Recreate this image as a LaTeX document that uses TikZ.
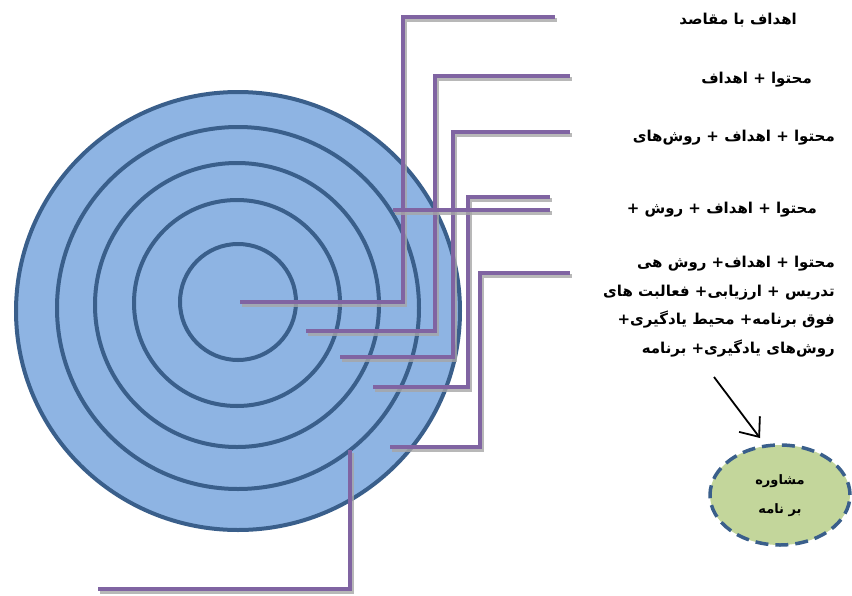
\documentclass[tikz,border=0pt]{standalone}
\usepackage{fontspec}
\usetikzlibrary{arrows.meta,shapes.geometric}
\newfontfamily\arabicfont[Script=Arabic]{DejaVu Sans Bold}
\TeXXeTstate=1
\definecolor{ringfill}{HTML}{8EB4E3}
\definecolor{ringline}{HTML}{3A5F8B}
\definecolor{purp}{HTML}{8064A2}
\definecolor{shad}{HTML}{A6A6A6}
\definecolor{ovfill}{HTML}{C3D69B}
\tikzset{
  ring/.style={draw=ringline,line width=4pt},
  plink/.style={draw=purp,line width=4.5pt},
  pshadow/.style={draw=shad,line width=4.5pt,opacity=0.8},
  lbl/.style={font=\arabicfont\fontsize{15}{28.5}\selectfont,inner sep=0pt,align=right},
}
\newcommand{\plinepath}[1]{%
  \draw[pshadow,shift={(1.5,3)}] #1;
  \draw[plink] #1;}
\begin{document}
\begin{tikzpicture}[x=1pt,y=-1pt]
\useasboundingbox (0,0) rectangle (852,595);
% target
\fill[ringfill] (238,311) ellipse [x radius=222,y radius=219];
\draw[ring] (238,311) ellipse [x radius=222,y radius=219];
\draw[ring] (238,308) circle [radius=181];
\draw[ring] (237,305) circle [radius=142];
\draw[ring] (237,303) circle [radius=103];
\draw[ring] (238,302) circle [radius=58];
% purple connectors
\plinepath{(240,302) -- (403,302) -- (403,17) -- (555,17)}
\plinepath{(306,331) -- (435,331) -- (435,76) -- (570,76)}
\plinepath{(340,357) -- (453,357) -- (453,132) -- (570,132)}
\plinepath{(373,387) -- (468,387) -- (468,197) -- (550,197)}
\plinepath{(393,210) -- (550,210)}
\plinepath{(390,447) -- (480,447) -- (480,273) -- (570,273)}
\plinepath{(350,450) -- (350,589) -- (98,589)}
% labels
\node[lbl,anchor=east] (t1) at (797,20) {\beginR اهداف با مقاصد\endR};
\node[lbl,anchor=east] (t2) at (812,80) {\beginR محتوا + اهداف\endR};
\node[lbl,anchor=east] (t3) at (835,138) {\beginR محتوا + اهداف + روش‌های\endR};
\node[lbl,anchor=east] (t4) at (817,210) {\beginR محتوا + اهداف + روش +\endR};
\node[lbl,anchor=north east] (t5) at (835,256) {\beginR محتوا + اهداف+ روش هی\endR\\
\beginR تدریس + ارزیابی+ فعالبت های\endR\\
\beginR فوق برنامه+ محیط یادگیری+\endR\\
\beginR روش‌های یادگیری+ برنامه\endR};
% oval
\node[ellipse,draw=ringline,line width=3.5pt,dash pattern=on 13pt off 7pt,fill=ovfill,
  minimum width=140pt,minimum height=100pt,inner sep=0pt,align=center,
  font=\arabicfont\fontsize{13}{29}\selectfont] (ov) at (780,495)
  {\rule{0pt}{12pt}\beginR مشاوره\endR\\ \beginR بر نامه\endR};
\coordinate (as) at (714,377);
\coordinate (ae) at (760,438);
\draw[line width=1.8pt,-{Straight Barb[length=16pt,width=26pt,line width=1.8pt]}] (as) -- (ae);
\end{tikzpicture}
\end{document}
